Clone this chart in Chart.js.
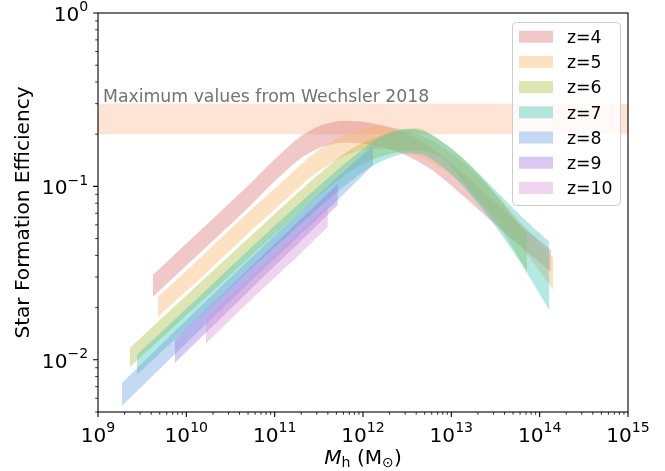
<!DOCTYPE html>
<html>
<head>
<meta charset="utf-8">
<script src="https://cdn.jsdelivr.net/npm/chart.js@4.4.0/dist/chart.umd.min.js"></script>
<style>
  html, body { margin: 0; padding: 0; background: #fff; }
</style>
</head>
<body>
<canvas id="sfeChart" width="665" height="471"></canvas>
<script>
// Etiquetas de redshift
const redshifts = ['z=4', 'z=5', 'z=6', 'z=7', 'z=8', 'z=9', 'z=10'];

// Masa de halo (Msun) y eficiencia: limite superior / inferior de cada banda
const massZ4 = [4.19e9, 1.43e10, 5.26e10, 8.86e10, 1.31e11, 1.94e11, 3.26e11, 5.94e11, 1.2e12, 2.62e12, 5.74e12, 1.1e13, 2.11e13, 5.26e13, 1.34e14];
const hiZ4 = [0.0309, 0.0555, 0.1036, 0.135, 0.1626, 0.1932, 0.2238, 0.2391, 0.2329, 0.2094, 0.1692, 0.1297, 0.0969, 0.0641, 0.0431];
const loZ4 = [0.0231, 0.0414, 0.0772, 0.1009, 0.1215, 0.1443, 0.167, 0.1784, 0.1738, 0.1562, 0.1263, 0.0969, 0.0723, 0.0479, 0.0322];

const massZ5 = [4.78e9, 1.43e10, 5.26e10, 1.49e11, 2.86e11, 5.94e11, 9.25e11, 1.44e12, 2.62e12, 5.74e12, 1.25e13, 2.74e13, 5.99e13, 1.42e14];
const hiZ5 = [0.0231, 0.0387, 0.0723, 0.1167, 0.1562, 0.1958, 0.2122, 0.2209, 0.215, 0.1857, 0.1424, 0.0982, 0.0625, 0.0387];
const loZ5 = [0.0177, 0.0293, 0.0548, 0.0883, 0.1183, 0.1481, 0.1605, 0.1648, 0.1605, 0.1386, 0.1064, 0.0732, 0.046, 0.0253];

const massZ6 = [2.3e9, 1.43e10, 5.26e10, 1.94e11, 4.23e11, 7.13e11, 1.37e12, 2.62e12, 4.42e12, 8.48e12, 1.63e13, 3.56e13, 7.19e13];
const hiZ6 = [0.0117, 0.0278, 0.0512, 0.0943, 0.1332, 0.1626, 0.1907, 0.2094, 0.215, 0.1762, 0.1332, 0.0837, 0.0526];
const loZ6 = [0.0091, 0.0213, 0.0392, 0.0713, 0.0995, 0.1215, 0.1443, 0.1583, 0.1605, 0.1424, 0.0931, 0.0577, 0.0322];

const massZ7 = [2.76e9, 1.43e10, 5.26e10, 1.94e11, 5.49e11, 1.054e12, 1.77e12, 2.99e12, 5.04e12, 1.04e13, 2.53e13, 5.99e13, 1.28e14];
const hiZ7 = [0.0107, 0.0234, 0.0437, 0.0804, 0.128, 0.167, 0.1984, 0.215, 0.2066, 0.1626, 0.1064, 0.0685, 0.0479];
const loZ7 = [0.0082, 0.0179, 0.033, 0.0601, 0.0956, 0.1231, 0.1424, 0.1541, 0.1501, 0.1152, 0.0685, 0.0368, 0.0194];

const massZ8 = [1.87e9, 1.43e10, 5.26e10, 1.94e11, 5.49e11, 1.3e12];
const hiZ8 = [0.00735, 0.0202, 0.0382, 0.0713, 0.1167, 0.1715];
const loZ8 = [0.00542, 0.0149, 0.0282, 0.0526, 0.086, 0.1332];

const massZ9 = [7.4e9, 5.25e10, 1.94e11, 5.2e11];
const hiZ9 = [0.0130, 0.0339, 0.0642, 0.1035];
const loZ9 = [0.0096, 0.0253, 0.0479, 0.0783];

const massZ10 = [1.67e10, 5.25e10, 1.94e11, 4.0e11];
const hiZ10 = [0.0170, 0.0297, 0.0555, 0.0783];
const loZ10 = [0.0124, 0.0219, 0.0408, 0.0585];

// Banda de Wechsler 2018
const wechslerMass = [1e9, 1e15];
const wechslerHi = [0.3, 0.3];
const wechslerLo = [0.2, 0.2];

// Ticks (exponentes)
const xTickExps = [9, 10, 11, 12, 13, 14, 15];
const yTickExps = [-2, -1, 0];

const bandMass = [massZ4, massZ5, massZ6, massZ7, massZ8, massZ9, massZ10];
const bandHi = [hiZ4, hiZ5, hiZ6, hiZ7, hiZ8, hiZ9, hiZ10];
const bandLo = [loZ4, loZ5, loZ6, loZ7, loZ8, loZ9, loZ10];

// Colores de las bandas
const colors = [
    'rgba(218,118,118,0.4)', // rojo
    'rgba(250,180,105,0.4)', // naranja
    'rgba(172,188,62,0.4)',  // oliva
    'rgba(68,198,182,0.4)',  // turquesa
    'rgba(107,162,222,0.4)', // azul
    'rgba(157,118,222,0.4)', // violeta
    'rgba(212,148,207,0.4)'  // rosa
];
const wechslerColor = 'rgba(252,165,115,0.3)';

const FONT = '"DejaVu Sans", sans-serif';
const AX = 20.1;   // tamaño ejes
const SUP = 14.1;  // exponentes
const SM = 17.3;   // leyenda y texto

function pts(xs, ys) {
    return xs.map((x, i) => ({ x: x, y: ys[i] }));
}

// Construir datasets: superior con relleno hasta el inferior
const datasets = [];
datasets.push({
    data: pts(wechslerMass, wechslerHi), fill: '+1', backgroundColor: wechslerColor,
    borderWidth: 0, borderColor: 'transparent', pointRadius: 0, order: 20
});
datasets.push({
    data: pts(wechslerMass, wechslerLo), fill: false,
    borderWidth: 0, borderColor: 'transparent', pointRadius: 0, order: 20
});
bandMass.forEach((m, k) => {
    datasets.push({
        label: redshifts[k], data: pts(m, bandHi[k]), fill: '+1', backgroundColor: colors[k],
        borderWidth: 0, borderColor: 'transparent', pointRadius: 0,
        tension: 0.3, order: 10 - k
    });
    datasets.push({
        data: pts(m, bandLo[k]), fill: false,
        borderWidth: 0, borderColor: 'transparent', pointRadius: 0,
        tension: 0.3, order: 10 - k
    });
});

function supLabel(ctx, base, exp, x, y, align) {
    ctx.font = AX + 'px ' + FONT;
    const wb = ctx.measureText(base).width;
    ctx.font = SUP + 'px ' + FONT;
    const we = ctx.measureText(exp).width;
    let x0 = x;
    if (align === 'center') x0 = x - (wb + we) / 2;
    if (align === 'right') x0 = x - (wb + we);
    ctx.textAlign = 'left';
    ctx.textBaseline = 'alphabetic';
    ctx.font = AX + 'px ' + FONT;
    ctx.fillText(base, x0, y);
    ctx.font = SUP + 'px ' + FONT;
    ctx.fillText(exp, x0 + wb, y - 9.8);
}

function expText(e) {
    return String(e).replace('-', '\u2212');
}

// Ejes, ticks, textos y leyenda
const decorPlugin = {
    id: 'decor',
    afterDraw(chart) {
        const ctx = chart.ctx;
        const xa = chart.scales.x, ya = chart.scales.y;
        const a = chart.chartArea;
        ctx.save();

        // Texto de Wechsler
        ctx.fillStyle = '#737373';
        ctx.font = SM + 'px ' + FONT;
        ctx.textAlign = 'left';
        ctx.textBaseline = 'alphabetic';
        ctx.fillText('Maximum values from Wechsler 2018', 103, 101.5);

        // Marco
        ctx.strokeStyle = '#000';
        ctx.lineWidth = 1.1;
        ctx.strokeRect(a.left, a.top, a.right - a.left, a.bottom - a.top);

        // Ticks eje x
        ctx.beginPath();
        xTickExps.forEach(e => {
            const px = xa.getPixelForValue(Math.pow(10, e));
            ctx.moveTo(px, a.bottom); ctx.lineTo(px, a.bottom + 4.9);
        });
        ctx.stroke();
        ctx.lineWidth = 0.8;
        ctx.beginPath();
        for (let e = 9; e < 15; e++) {
            for (let m = 2; m <= 9; m++) {
                const px = xa.getPixelForValue(m * Math.pow(10, e));
                ctx.moveTo(px, a.bottom); ctx.lineTo(px, a.bottom + 2.8);
            }
        }
        ctx.stroke();

        // Ticks eje y
        ctx.lineWidth = 1.1;
        ctx.beginPath();
        yTickExps.forEach(e => {
            const py = ya.getPixelForValue(Math.pow(10, e));
            ctx.moveTo(a.left, py); ctx.lineTo(a.left - 4.9, py);
        });
        ctx.stroke();
        ctx.lineWidth = 0.8;
        ctx.beginPath();
        for (let e = -3; e < 0; e++) {
            for (let m = 2; m <= 9; m++) {
                const v = m * Math.pow(10, e);
                if (v < ya.min || v > ya.max) continue;
                const py = ya.getPixelForValue(v);
                ctx.moveTo(a.left, py); ctx.lineTo(a.left - 2.8, py);
            }
        }
        ctx.stroke();

        // Etiquetas de ticks
        ctx.fillStyle = '#000';
        xTickExps.forEach(e => {
            const px = xa.getPixelForValue(Math.pow(10, e));
            supLabel(ctx, '10', expText(e), px, a.bottom + 29.5, 'center');
        });
        yTickExps.forEach(e => {
            const py = ya.getPixelForValue(Math.pow(10, e));
            supLabel(ctx, '10', expText(e), a.left - 9.8, py + 7.9, 'right');
        });

        // Titulo eje y
        ctx.save();
        ctx.translate(29, (a.top + a.bottom) / 2);
        ctx.rotate(-Math.PI / 2);
        ctx.font = AX + 'px ' + FONT;
        ctx.textAlign = 'center';
        ctx.textBaseline = 'alphabetic';
        ctx.fillText('Star Formation Efficiency', 0, 0);
        ctx.restore();

        // Titulo eje x: M_h (M_sun)
        const parts = [
            { t: 'M', f: 'italic ' + AX + 'px ' + FONT, dy: 0 },
            { t: 'h', f: SUP + 'px ' + FONT, dy: 3 },
            { t: ' (M', f: AX + 'px ' + FONT, dy: 0 },
            { t: '\u2299', f: SUP + 'px ' + FONT, dy: 3 },
            { t: ')', f: AX + 'px ' + FONT, dy: 0 }
        ];
        let total = 0;
        parts.forEach(p => { ctx.font = p.f; p.w = ctx.measureText(p.t).width; total += p.w; });
        let cx = (a.left + a.right) / 2 - total / 2;
        const by = 464;
        ctx.textAlign = 'left';
        parts.forEach(p => {
            ctx.font = p.f;
            ctx.fillText(p.t, cx, by + p.dy);
            cx += p.w;
        });

        // Leyenda
        const lx = 512, ly = 22, lw = 108, lh = 183;
        ctx.beginPath();
        ctx.roundRect(lx + 0.5, ly + 0.5, lw, lh, 4);
        ctx.fillStyle = 'rgba(255,255,255,0.8)';
        ctx.fill();
        ctx.strokeStyle = '#cccccc';
        ctx.lineWidth = 1;
        ctx.stroke();
        redshifts.forEach((lab, i) => {
            const cy = 36.7 + i * 25.2;
            ctx.fillStyle = colors[i];
            ctx.fillRect(519, cy - 6, 34, 12);
            ctx.fillStyle = '#000';
            ctx.font = SM + 'px ' + FONT;
            ctx.textBaseline = 'alphabetic';
            ctx.fillText(lab, 567, cy + 6.2);
        });

        ctx.restore();
    }
};

const ctx = document.getElementById('sfeChart').getContext('2d');
new Chart(ctx, {
    type: 'line',
    data: { datasets: datasets },
    options: {
        responsive: false,
        animation: false,
        devicePixelRatio: 1,
        layout: { padding: { left: 98, right: 37, top: 13, bottom: 59 } },
        plugins: {
            legend: { display: false },
            tooltip: { enabled: false },
            filler: { propagate: false }
        },
        scales: {
            x: { type: 'logarithmic', min: 1e9, max: 1e15, display: false },
            y: { type: 'logarithmic', min: 0.005, max: 1, display: false }
        }
    },
    plugins: [decorPlugin]
});
</script>
</body>
</html>
